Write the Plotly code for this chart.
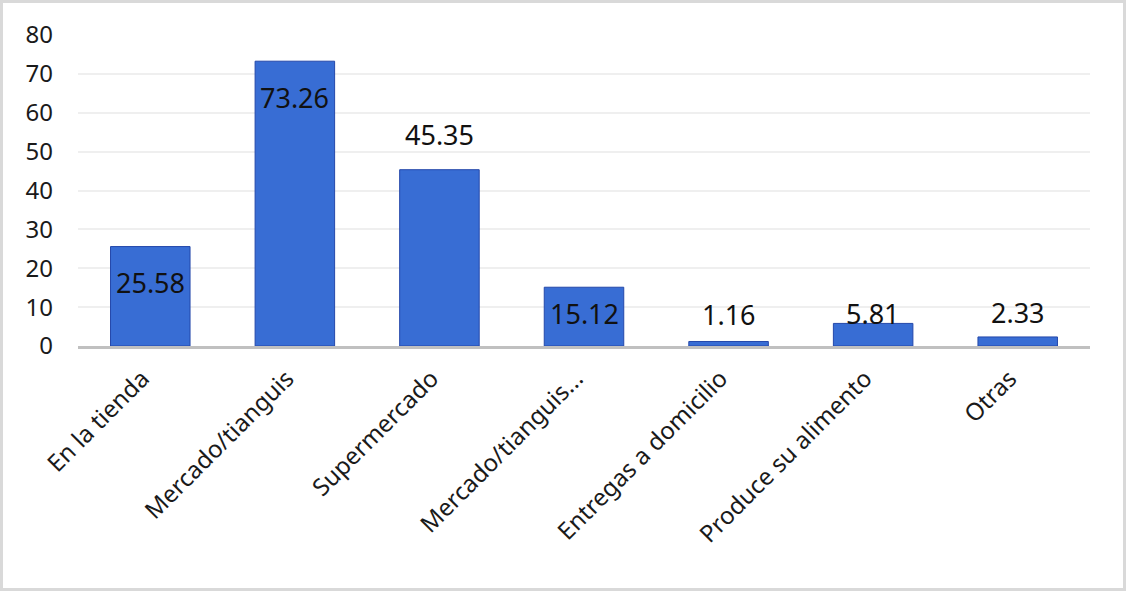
import plotly.graph_objects as go

categories = ["En la tienda", "Mercado/tianguis", "Supermercado", "Mercado/tianguis...",
              "Entregas a domicilio", "Produce su alimento", "Otras"]
values = [25.58, 73.26, 45.35, 15.12, 1.16, 5.81, 2.33]
value_labels = ["25.58", "73.26", "45.35", "15.12", "1.16", "5.81", "2.33"]
# label vertical offsets in pixels relative to bar top (styling)
label_shift = [-36, -36, 35, -26, 27, 10, 24]

W, H = 1126, 591
ML, MR, MT, MB = 78, 36, 35, 245
FONT = "Noto Sans"

fig = go.Figure()
fig.add_trace(go.Bar(
    x=categories, y=values, width=0.55,
    marker=dict(color="#386DD4", line=dict(color="#2448AA", width=1)),
    hoverinfo="skip",
))

for c, v, t, s in zip(categories, values, value_labels, label_shift):
    fig.add_annotation(x=c, y=v, text=t, showarrow=False, yshift=s,
                       font=dict(family=FONT, size=27, color="#111111"),
                       xanchor="center", yanchor="middle")

pw = W - ML - MR
ph = H - MT - MB
fig.add_shape(type="rect", xref="paper", yref="paper",
              x0=-(ML - 1.5) / pw, x1=1 + (MR - 1.5) / pw,
              y0=-(MB - 1.5) / ph, y1=1 + (MT - 1.5) / ph,
              line=dict(color="#D9D9D9", width=3), layer="below")

fig.update_layout(
    width=W, height=H,
    margin=dict(l=ML, r=MR, t=MT, b=MB),
    paper_bgcolor="white", plot_bgcolor="white",
    showlegend=False,
    bargap=0.45,
    font=dict(family=FONT, color="#1A1A1A"),
    xaxis=dict(
        tickangle=-45, tickfont=dict(size=24, family=FONT, color="#1A1A1A"),
        showline=True, linecolor="#C0C0C0", linewidth=3,
        showgrid=False, ticks="", ticklabelstandoff=6, ticklabelshift=-8,
    ),
    yaxis=dict(
        range=[0, 80], dtick=10, tickfont=dict(size=24, family=FONT, color="#1A1A1A"),
        showgrid=True, gridcolor="#EFEFEF", gridwidth=2,
        zeroline=False, showline=False, ticks="", ticklabelstandoff=24,
    ),
)

fig.write_html("out.html", config={"displayModeBar": False},
               post_script="document.body.style.margin='0px';document.body.style.padding='0px';")
